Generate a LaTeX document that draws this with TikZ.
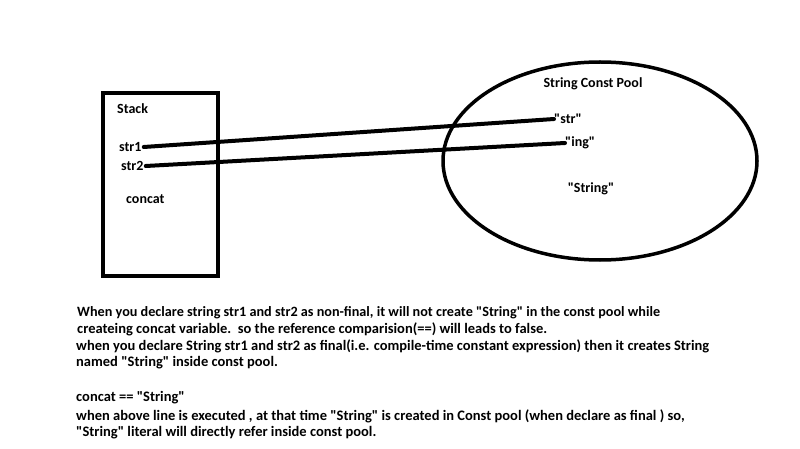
\documentclass[tikz,border=0pt]{standalone}
\usepackage{fontspec}
\setmainfont{Carlito}[Ligatures=TeXOff]
\newcommand\dq{\symbol{34}}
\begin{document}
\begin{tikzpicture}[x=1pt,y=-1pt,
  lbl/.style={font=\bfseries\fontsize{14}{16}\selectfont, inner sep=0pt},
  txt/.style={font=\bfseries\fontsize{14.5}{16}\selectfont, inner sep=0pt, anchor=west},
  ptr/.style={line width=4pt, line cap=round}]
\useasboundingbox (0,0) rectangle (800,449);
% stack box
\draw[line width=4pt] (103,93) rectangle (218,276);
\node[lbl, anchor=west] (stack) at (117,109) {Stack};
\node[lbl, anchor=west] (s1) at (119,147) {str1};
\node[lbl, anchor=west] (s2) at (121,166) {str2};
\node[lbl, anchor=west] (cc) at (126,199) {concat};
% pool
\draw[line width=3.5pt] (600,161) ellipse [x radius=157, y radius=99];
\node[lbl] (pool) at (593,84) {String Const Pool};
\node[lbl, anchor=west] (p1) at (554,119) {\dq str\dq};
\node[lbl, anchor=west] (p2) at (565,143) {\dq ing\dq};
\node[lbl] (p3) at (591,189) {\dq String\dq};
\draw[ptr] ([xshift=2pt]s1.east) -- (p1.west);
\draw[ptr] ([xshift=2pt]s2.east) -- (p2.west);
% text
\node[txt, font=\bfseries\fontsize{14.2}{16}\selectfont] (t1) at (77,313) {When you declare string str1 and str2 as non-final, it will not create \dq String\dq{} in the const pool while};
\node[txt] (t2) at (77,329) {createing concat variable.\ \ so the reference comparision(==) will leads to false.};
\node[txt] (t3) at (76,346) {when you declare String str1 and str2 as final(i.e. compile-time constant expression) then it creates String};
\node[txt] (t4) at (76,363) {named \dq String\dq{} inside const pool.};
\node[txt] (t5) at (76,398) {concat == \dq String\dq};
\node[txt] (t6) at (76,416) {when above line is executed , at that time \dq String\dq{} is created in Const pool (when declare as final ) so,};
\node[txt] (t7) at (76,433) {\dq String\dq{} literal will directly refer inside const pool.};
\end{tikzpicture}
\end{document}
